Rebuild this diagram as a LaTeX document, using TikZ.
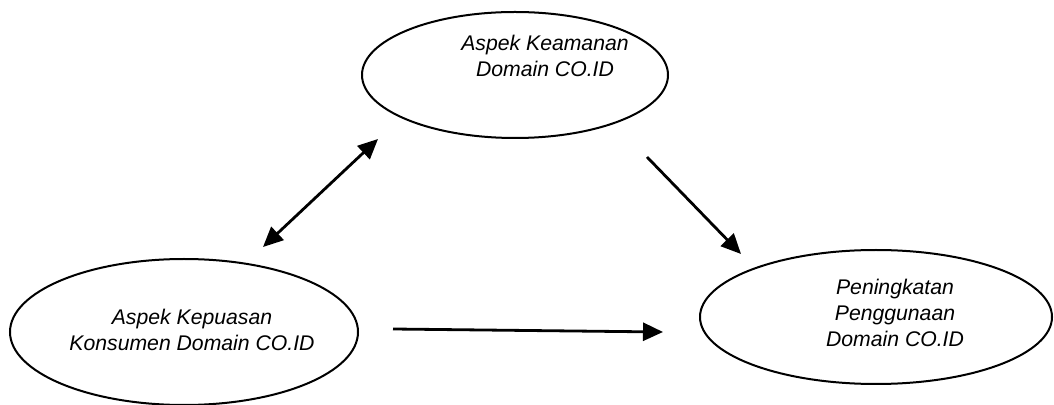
\documentclass[tikz,border=0pt]{standalone}
\usepackage{fontspec}
\setmainfont{Liberation Sans}
\usetikzlibrary{shapes.geometric,arrows.meta}
\begin{document}
\begin{tikzpicture}[x=0.5pt,y=-0.5pt,
  oval/.style={draw=black,line width=1pt,ellipse,inner sep=0pt},
  lbl/.style={align=center,font=\fontsize{10.6}{13}\selectfont\itshape,inner sep=0pt},
  arr/.style={line width=1.4pt,-{Triangle[length=10pt,width=9pt]}},
  darr/.style={line width=1.4pt,{Triangle[length=10pt,width=9pt]}-{Triangle[length=10pt,width=9pt]}}]
\useasboundingbox (0,0) rectangle (1054,405);
\node[oval,minimum width=153pt,minimum height=63pt] (keam) at (515,75) {};
\node[oval,minimum width=174pt,minimum height=73pt] (kep) at (184,332) {};
\node[oval,minimum width=176pt,minimum height=67pt] (pen) at (876,317) {};
\node[lbl] (tkeam) at (545,56) {Aspek Keamanan\\Domain CO.ID};
\node[lbl] (tkep) at (192,330) {Aspek Kepuasan\\Konsumen Domain CO.ID};
\node[lbl] (tpen) at (895,313) {Peningkatan\\Penggunaan\\Domain CO.ID};
\coordinate (d1) at (263,247);
\coordinate (d2) at (378,139);
\coordinate (a1) at (647,157);
\coordinate (a2) at (741,254);
\coordinate (h1) at (393,329);
\coordinate (h2) at (663,332);
\draw[darr] (d1) -- (d2);
\draw[arr] (a1) -- (a2);
\draw[arr] (h1) -- (h2);
\end{tikzpicture}
\end{document}
